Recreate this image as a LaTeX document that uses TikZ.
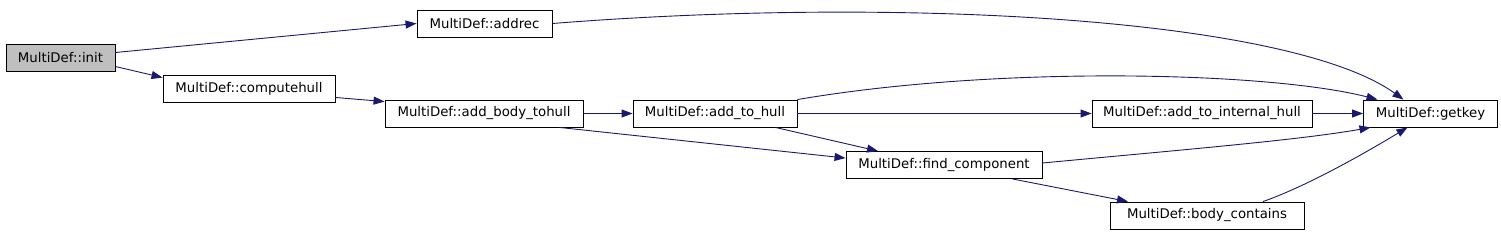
\documentclass[tikz,border=0pt]{standalone}
\usepackage{fontspec}
\setmainfont{DejaVu Sans}
\usepackage{tikz}
\usetikzlibrary{arrows.meta}
\definecolor{AzulLlamada}{RGB}{25,25,112}
\definecolor{GrisRaiz}{RGB}{191,191,191}

\begin{document}
\begin{tikzpicture}[x=1pt,y=-1pt,>={Triangle[length=11pt,width=8pt]},
  fn/.style={draw,line width=0.9pt,minimum height=27pt,inner sep=0pt,
    font=\fontsize{13.3}{16}\selectfont},
  call/.style={->,line width=0.9pt,AzulLlamada}]
  \useasboundingbox (0,0) rectangle (1501,233);

  % funciones
  \node[fn,fill=GrisRaiz,minimum width=109pt] (init) at (60.5,57.5) {MultiDef::init};
  \node[fn,minimum width=135pt] (addrec) at (484.5,23.5) {MultiDef::addrec};
  \node[fn,minimum width=172pt] (computehull) at (249,88.5) {MultiDef::computehull};
  \node[fn,minimum width=198pt] (addbody) at (484,113.5) {MultiDef::add\_body\_tohull};
  \node[fn,minimum width=164pt] (addhull) at (715,113.5) {MultiDef::add\_to\_hull};
  \node[fn,minimum width=196pt] (findcomp) at (944,165) {MultiDef::find\_component};
  \node[fn,minimum width=220pt] (internal) at (1202,113.5) {MultiDef::add\_to\_internal\_hull};
  \node[fn,minimum width=134pt] (getkey) at (1430.5,113.5) {MultiDef::getkey};
  \node[fn,minimum width=194pt] (bodycont) at (1207,215.5) {MultiDef::body\_contains};

  % llamadas
  \draw[call] ([yshift=5pt]init.east) -- (addrec.west);
  \draw[call] ([yshift=-9pt]init.east) -- ([yshift=-3pt]computehull.north west);
  \draw[call] ([yshift=-9pt]computehull.east) -- ([yshift=-2pt]addbody.north west);
  \draw[call] (addbody) -- (addhull);
  \draw[call] ([xshift=-24pt]addbody.south east) -- ([yshift=-7pt]findcomp.north west);
  \draw[call] (addrec.east) .. controls (900,-4) and (1290,18) .. ([xshift=-27pt]getkey.north);
  \draw[call] (addhull.north east) .. controls (1000,65) and (1270,72) .. ([xshift=-53pt]getkey.north);
  \draw[call] (addhull) -- (internal);
  \draw[call] ([xshift=-22pt]addhull.south east) -- ([xshift=-66pt]findcomp.north);
  \draw[call] (internal) -- (getkey);
  \draw[call] ([yshift=2pt]findcomp.east) .. controls (1180,150) and (1300,140) .. ([xshift=-60pt]getkey.south);
  \draw[call] ([xshift=-30pt]findcomp.south east) -- ([xshift=-79pt]bodycont.north);
  \draw[call] ([xshift=56pt]bodycont.north) .. controls (1310,185) and (1370,150) .. ([xshift=-23pt]getkey.south);
\end{tikzpicture}
\end{document}
